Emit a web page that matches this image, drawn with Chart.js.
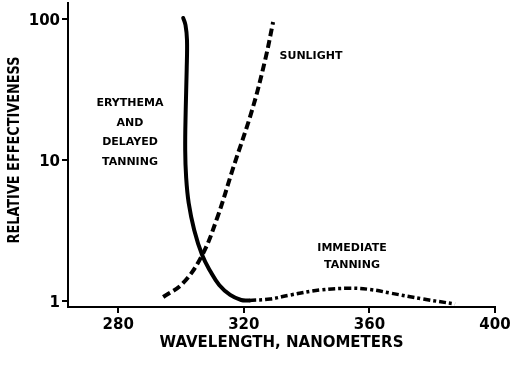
<!DOCTYPE html>
<html>
<head>
<meta charset="utf-8">
<script src="https://cdn.jsdelivr.net/npm/chart.js@4"></script>
<style>
  html, body { margin: 0; padding: 0; background: #fff; }
  #wrap { width: 525px; height: 376px; position: relative; }
</style>
</head>
<body>
<div id="wrap"><canvas id="c" width="525" height="376"></canvas></div>
<script>
// Wavelength (nm) / relative effectiveness readings
const erythemaX = [300.69, 301.42, 301.90, 301.80, 301.49, 301.33, 301.64, 302.44, 304.19, 306.73, 309.28, 312.15, 315.65, 319.15, 321.70];
const erythemaY = [101.5, 90.5, 70.9, 43.5, 22.7, 11.81, 7.48, 4.98, 3.21, 2.13, 1.644, 1.309, 1.112, 1.025, 1.016];

const sunlightX = [294.32, 300.69, 306.73, 311.51, 316.60, 322.65, 326.79, 329.33];
const sunlightY = [1.076, 1.352, 2.13, 3.90, 8.81, 22.7, 51.2, 95.1];

const immediateX = [321.70, 328.39, 334.75, 344.30, 353.85, 360.21, 366.58, 377.08, 387.27];
const immediateY = [1.016, 1.041, 1.111, 1.206, 1.240, 1.216, 1.148, 1.041, 0.960];

const xTicks = [280, 320, 360, 400];
const yTicks = [1, 10, 100];

const xTitle = 'WAVELENGTH, NANOMETERS';
const yTitle = 'RELATIVE EFFECTIVENESS';

const noteLines = [
  ['ERYTHEMA', 'AND', 'DELAYED', 'TANNING'],
  ['SUNLIGHT'],
  ['IMMEDIATE', 'TANNING']
];

const pts = (xs, ys) => xs.map((x, i) => ({ x: x, y: ys[i] }));

const annot = {
  id: 'annot',
  afterDraw(chart) {
    const ctx = chart.ctx;
    ctx.save();
    ctx.fillStyle = '#000';
    ctx.textAlign = 'center';
    ctx.textBaseline = 'middle';
    ctx.font = 'bold 11px "DejaVu Sans"';
    const anchors = [
      { cx: 130, cy: 103, gap: 19.7 },
      { cx: 311, cy: 56, gap: 0 },
      { cx: 352, cy: 248, gap: 17 }
    ];
    noteLines.forEach((lines, k) => {
      const a = anchors[k];
      lines.forEach((t, i) => ctx.fillText(t, a.cx, a.cy + i * a.gap));
    });
    ctx.font = 'bold 16px "DejaVu Sans"';
    ctx.translate(15, 150);
    ctx.rotate(-Math.PI / 2);
    ctx.fillText(yTitle, 0, 0, 187);
    ctx.restore();
  }
};

new Chart(document.getElementById('c'), {
  type: 'line',
  data: {
    datasets: [
      {
        label: 'Erythema and delayed tanning',
        data: pts(erythemaX, erythemaY),
        borderColor: '#000', borderWidth: 4, pointRadius: 0,
        tension: 0.4, fill: false, borderCapStyle: 'round'
      },
      {
        label: 'Sunlight',
        data: pts(sunlightX, sunlightY),
        borderColor: '#000', borderWidth: 4, pointRadius: 0,
        borderDash: [8, 4], tension: 0.4, fill: false
      },
      {
        label: 'Immediate tanning',
        data: pts(immediateX, immediateY),
        borderColor: '#000', borderWidth: 3.5, pointRadius: 0,
        borderDash: [7, 3, 3, 3], tension: 0.4, fill: false
      }
    ]
  },
  options: {
    responsive: false,
    animation: false,
    devicePixelRatio: 1,
    layout: { padding: { top: 3, right: 30, left: 0, bottom: 0 } },
    plugins: { legend: { display: false }, tooltip: { enabled: false } },
    scales: {
      x: {
        type: 'linear', min: 264, max: 400,
        afterFit: s => { s.height = 69; },
        afterBuildTicks: s => { s.ticks = xTicks.map(v => ({ value: v })); },
        grid: { display: true, drawOnChartArea: false, drawTicks: true, tickLength: 6, color: '#000', lineWidth: 2 },
        border: { display: true, color: '#000', width: 2 },
        ticks: { color: '#000', font: { family: 'DejaVu Sans', weight: 'bold', size: 15 }, padding: 3, maxRotation: 0, autoSkip: false },
        title: { display: true, text: xTitle, color: '#000', font: { family: 'DejaVu Sans', weight: 'bold', size: 15 }, padding: { top: 0, bottom: 24 } }
      },
      y: {
        type: 'logarithmic', min: 0.914, max: 129.6,
        afterFit: s => { s.width = 68; s.paddingTop = 0; s.paddingBottom = 0; },
        afterBuildTicks: s => { s.ticks = yTicks.map(v => ({ value: v })); },
        grid: { display: true, drawOnChartArea: false, drawTicks: true, tickLength: 6, color: '#000', lineWidth: 2 },
        border: { display: true, color: '#000', width: 2 },
        ticks: { color: '#000', font: { family: 'DejaVu Sans', weight: 'bold', size: 15 }, padding: 2, labelOffset: 2, autoSkip: false, callback: v => String(v) }
      }
    }
  },
  plugins: [annot]
});
</script>
</body>
</html>
